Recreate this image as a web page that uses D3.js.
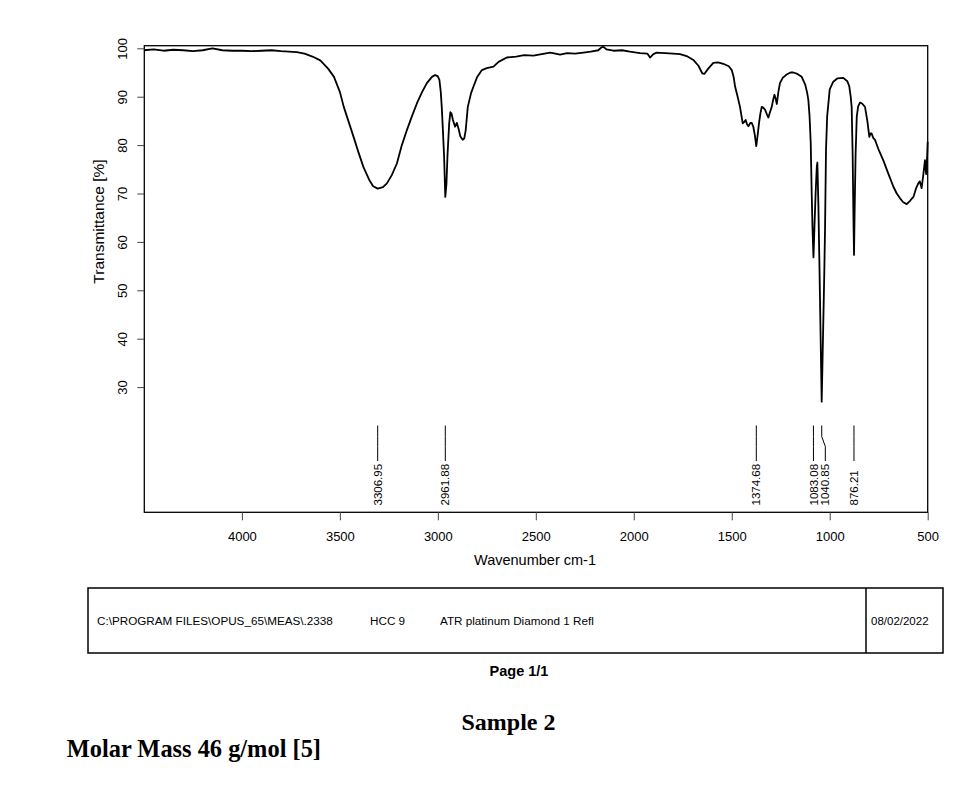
<!DOCTYPE html>
<html>
<head>
<meta charset="utf-8">
<script src="https://cdn.jsdelivr.net/npm/d3@7"></script>
<style>
  body { margin: 0; background: #fff; }
  svg { display: block; }
  .axis text { font-family: Arial, "Liberation Sans", sans-serif; fill: #000; }
</style>
</head>
<body>
<div id="chart"></div>
<script>
// spectrum (wavenumber cm-1, transmittance %)
const wavenumbers = [
  4498, 4450, 4400, 4350, 4300, 4250, 4200, 4150, 4100, 4050, 4000, 3950, 3900, 3850, 3800,
  3760, 3720, 3680, 3640, 3600, 3560, 3530, 3500, 3480, 3455, 3430, 3405, 3380, 3350, 3330,
  3307, 3280, 3260, 3235, 3209, 3185, 3158, 3130, 3107, 3080, 3056, 3030, 3014, 3000, 2992,
  2985, 2980, 2974, 2968, 2962, 2956, 2951, 2946, 2942, 2936, 2930, 2923, 2912, 2903, 2895,
  2885, 2873, 2865, 2858, 2847, 2830, 2818, 2800, 2775, 2750, 2716, 2690, 2648, 2600, 2560,
  2512, 2470, 2427, 2400, 2376, 2340, 2300, 2257, 2220, 2181, 2165, 2155, 2140, 2104, 2060,
  2020, 1968, 1930, 1917, 1900, 1883, 1840, 1800, 1764, 1730, 1696, 1670, 1650, 1640, 1620,
  1594, 1570, 1543, 1515, 1500, 1490, 1483, 1470, 1458, 1444, 1436, 1429, 1422, 1415, 1405,
  1398, 1390, 1382, 1375, 1368, 1361, 1354, 1347, 1338, 1330, 1320, 1313, 1305, 1296, 1288,
  1282, 1276, 1270, 1262, 1254, 1240, 1220, 1200, 1186, 1165, 1143, 1125, 1115, 1109, 1103,
  1097, 1092, 1088, 1083, 1078, 1072, 1066, 1063, 1058, 1052, 1046, 1041, 1037, 1033, 1028,
  1024, 1019, 1013, 1000, 982, 960, 931, 910, 900, 893, 888, 883, 879, 876, 873,
  868, 862, 855, 845, 835, 820, 808, 798, 792, 786, 778, 769, 750, 727, 700,
  675, 658, 641, 625, 607, 590, 573, 560, 548, 540, 531, 522, 514, 508, 505, 500
];
const transmittance = [
  99.6, 99.8, 99.5, 99.7, 99.6, 99.4, 99.6, 100.0, 99.6, 99.5, 99.5, 99.4, 99.5, 99.6, 99.4,
  99.3, 99.2, 98.9, 98.3, 97.5, 95.8, 94.1, 91.0, 87.9, 84.8, 81.7, 78.5, 75.5, 72.8, 71.5,
  71.0, 71.3, 72.1, 73.8, 76.2, 79.8, 83.1, 86.2, 88.6, 91.0, 92.8, 94.1, 94.5, 94.2, 93.5,
  91.0, 87.9, 83.0, 77.6, 69.3, 72.0, 77.6, 81.5, 84.5, 86.8, 86.5, 85.2, 83.8, 84.6, 83.5,
  81.8, 81.1, 81.4, 83.0, 87.9, 90.8, 92.1, 94.0, 95.5, 95.9, 96.2, 97.2, 98.1, 98.3, 98.6,
  98.5, 98.8, 99.1, 98.9, 98.7, 99.0, 98.9, 99.1, 99.3, 99.6, 100.2, 100.3, 99.8, 99.5, 99.6,
  99.3, 99.0, 98.9, 98.1, 98.8, 99.1, 99.0, 98.9, 98.8, 98.4, 97.6, 96.4, 94.8, 94.7, 95.8,
  97.0, 97.1, 96.8, 96.3, 95.5, 94.0, 92.1, 90.0, 87.9, 84.5, 84.8, 85.2, 84.3, 83.9, 84.6,
  84.6, 83.8, 82.0, 79.8, 82.0, 84.5, 86.5, 87.9, 87.7, 87.3, 86.3, 85.7, 86.8, 87.9, 89.5,
  90.4, 89.6, 88.5, 91.0, 92.8, 93.9, 94.6, 95.0, 95.0, 94.7, 94.1, 92.5, 90.8, 89.3, 86.0,
  80.5, 70.0, 63.0, 56.8, 63.0, 70.0, 75.5, 76.4, 68.0, 54.0, 39.0, 27.0, 35.0, 43.0, 53.0,
  62.5, 79.0, 86.0, 91.5, 93.1, 93.8, 93.9, 93.2, 92.1, 90.0, 87.9, 78.0, 65.0, 57.3, 66.0,
  78.0, 85.9, 88.0, 88.8, 88.6, 87.9, 85.0, 81.7, 82.4, 82.4, 81.5, 81.1, 79.0, 76.9, 74.0,
  71.4, 70.0, 69.0, 68.2, 67.8, 68.5, 69.3, 71.0, 72.1, 72.5, 71.1, 74.0, 76.9, 74.0, 75.5, 80.7
];

const xTicks = [4000, 3500, 3000, 2500, 2000, 1500, 1000, 500];
const yTicks = [30, 40, 50, 60, 70, 80, 90, 100];
const peakLabels = [3306.95, 2961.88, 1374.68, 1083.08, 1040.85, 876.21];
const footerFields = ["C:\\PROGRAM FILES\\OPUS_65\\MEAS\\.2338", "HCC 9", "ATR platinum Diamond 1 Refl"];
const footerDate = "08/02/2022";

const W = 973, H = 789;
const plot = { left: 144.3, top: 45.7, right: 927.7, bottom: 512.3 };

const svg = d3.select("#chart").append("svg")
  .attr("width", W)
  .attr("height", H);

svg.append("rect").attr("width", W).attr("height", H).attr("fill", "#fff");

const x = d3.scaleLinear().domain([4498, 500]).range([plot.left, plot.right]);
const y = d3.scaleLinear().domain([4.13, 100.54]).range([plot.bottom, plot.top]);

// frame
svg.append("rect")
  .attr("x", plot.left).attr("y", plot.top)
  .attr("width", plot.right - plot.left).attr("height", plot.bottom - plot.top)
  .attr("fill", "none").attr("stroke", "#000").attr("stroke-width", 1.3);

const xAxis = svg.append("g")
  .attr("class", "axis")
  .attr("transform", `translate(0,${plot.bottom})`)
  .call(d3.axisBottom(x).tickValues(xTicks).tickSize(8).tickPadding(11).tickFormat(d3.format("d")));
xAxis.select(".domain").remove();
xAxis.selectAll("line").attr("stroke", "#444");
xAxis.selectAll("text").attr("font-size", 13);

const yAxis = svg.append("g")
  .attr("class", "axis")
  .attr("transform", `translate(${plot.left},0)`)
  .call(d3.axisLeft(y).tickValues(yTicks).tickSize(7));
yAxis.select(".domain").remove();
yAxis.selectAll("line").attr("stroke", "#444");
yAxis.selectAll("text")
  .attr("x", 0).attr("dy", null)
  .attr("transform", "translate(-17.6,0) rotate(-90)")
  .attr("text-anchor", "middle")
  .attr("font-size", 13);

// axis titles
svg.append("text")
  .attr("x", 535).attr("y", 565)
  .attr("text-anchor", "middle")
  .attr("font-family", "Arial, 'Liberation Sans', sans-serif")
  .attr("font-size", 14.5)
  .text("Wavenumber cm-1");

svg.append("text")
  .attr("transform", "translate(103.5,221.5) rotate(-90)")
  .attr("text-anchor", "middle")
  .attr("font-family", "Arial, 'Liberation Sans', sans-serif")
  .attr("font-size", 15.5)
  .text("Transmittance [%]");

// spectrum
const pts = wavenumbers.map((w, i) => [w, transmittance[i]]);
svg.append("path")
  .datum(pts)
  .attr("fill", "none")
  .attr("stroke", "#000")
  .attr("stroke-width", 1.8)
  .attr("stroke-linejoin", "round")
  .attr("d", d3.line().x(d => x(d[0])).y(d => y(d[1])));

// peak markers; 1040.85 is nudged right to make room for its neighbour
const labelShift = { 1040.85: 3.6 };
const pk = svg.append("g");
peakLabels.forEach(p => {
  const x0 = x(p), x1 = x0 + (labelShift[p] || 0);
  pk.append("path")
    .attr("d", `M${x0},425.5 L${x0},436.5 L${x1},446.5 L${x1},461`)
    .attr("fill", "none").attr("stroke", "#000").attr("stroke-width", 1);
  pk.append("text")
    .attr("transform", `translate(${x1},505.5) rotate(-90)`)
    .attr("dy", "0.36em")
    .attr("font-family", "Arial, 'Liberation Sans', sans-serif")
    .attr("font-size", 11.5)
    .text(p.toFixed(2));
});

// footer block
const foot = svg.append("g")
  .attr("font-family", "Arial, 'Liberation Sans', sans-serif");
foot.append("rect")
  .attr("x", 88).attr("y", 588).attr("width", 855).attr("height", 65)
  .attr("fill", "none").attr("stroke", "#000").attr("stroke-width", 1.5);
foot.append("line")
  .attr("x1", 866).attr("x2", 866).attr("y1", 588).attr("y2", 653)
  .attr("stroke", "#000").attr("stroke-width", 1.5);
const fieldX = [97, 370, 440];
footerFields.forEach((t, i) => {
  foot.append("text").attr("x", fieldX[i]).attr("y", 625).attr("font-size", 11.7).text(t);
});
foot.append("text").attr("x", 871).attr("y", 625).attr("font-size", 11.5).text(footerDate);
foot.append("text").attr("x", 519).attr("y", 676).attr("text-anchor", "middle")
  .attr("font-size", 14.5).attr("font-weight", "bold").text("Page 1/1");

svg.append("text")
  .attr("x", 508.5).attr("y", 730).attr("text-anchor", "middle")
  .attr("font-family", "'Times New Roman', 'Liberation Serif', serif")
  .attr("font-weight", "bold").attr("font-size", 24)
  .text("Sample 2");
svg.append("text")
  .attr("x", 66.7).attr("y", 757)
  .attr("font-family", "'Times New Roman', 'Liberation Serif', serif")
  .attr("font-weight", "bold").attr("font-size", 24.4)
  .text("Molar Mass 46 g/mol [5]");
</script>
</body>
</html>
